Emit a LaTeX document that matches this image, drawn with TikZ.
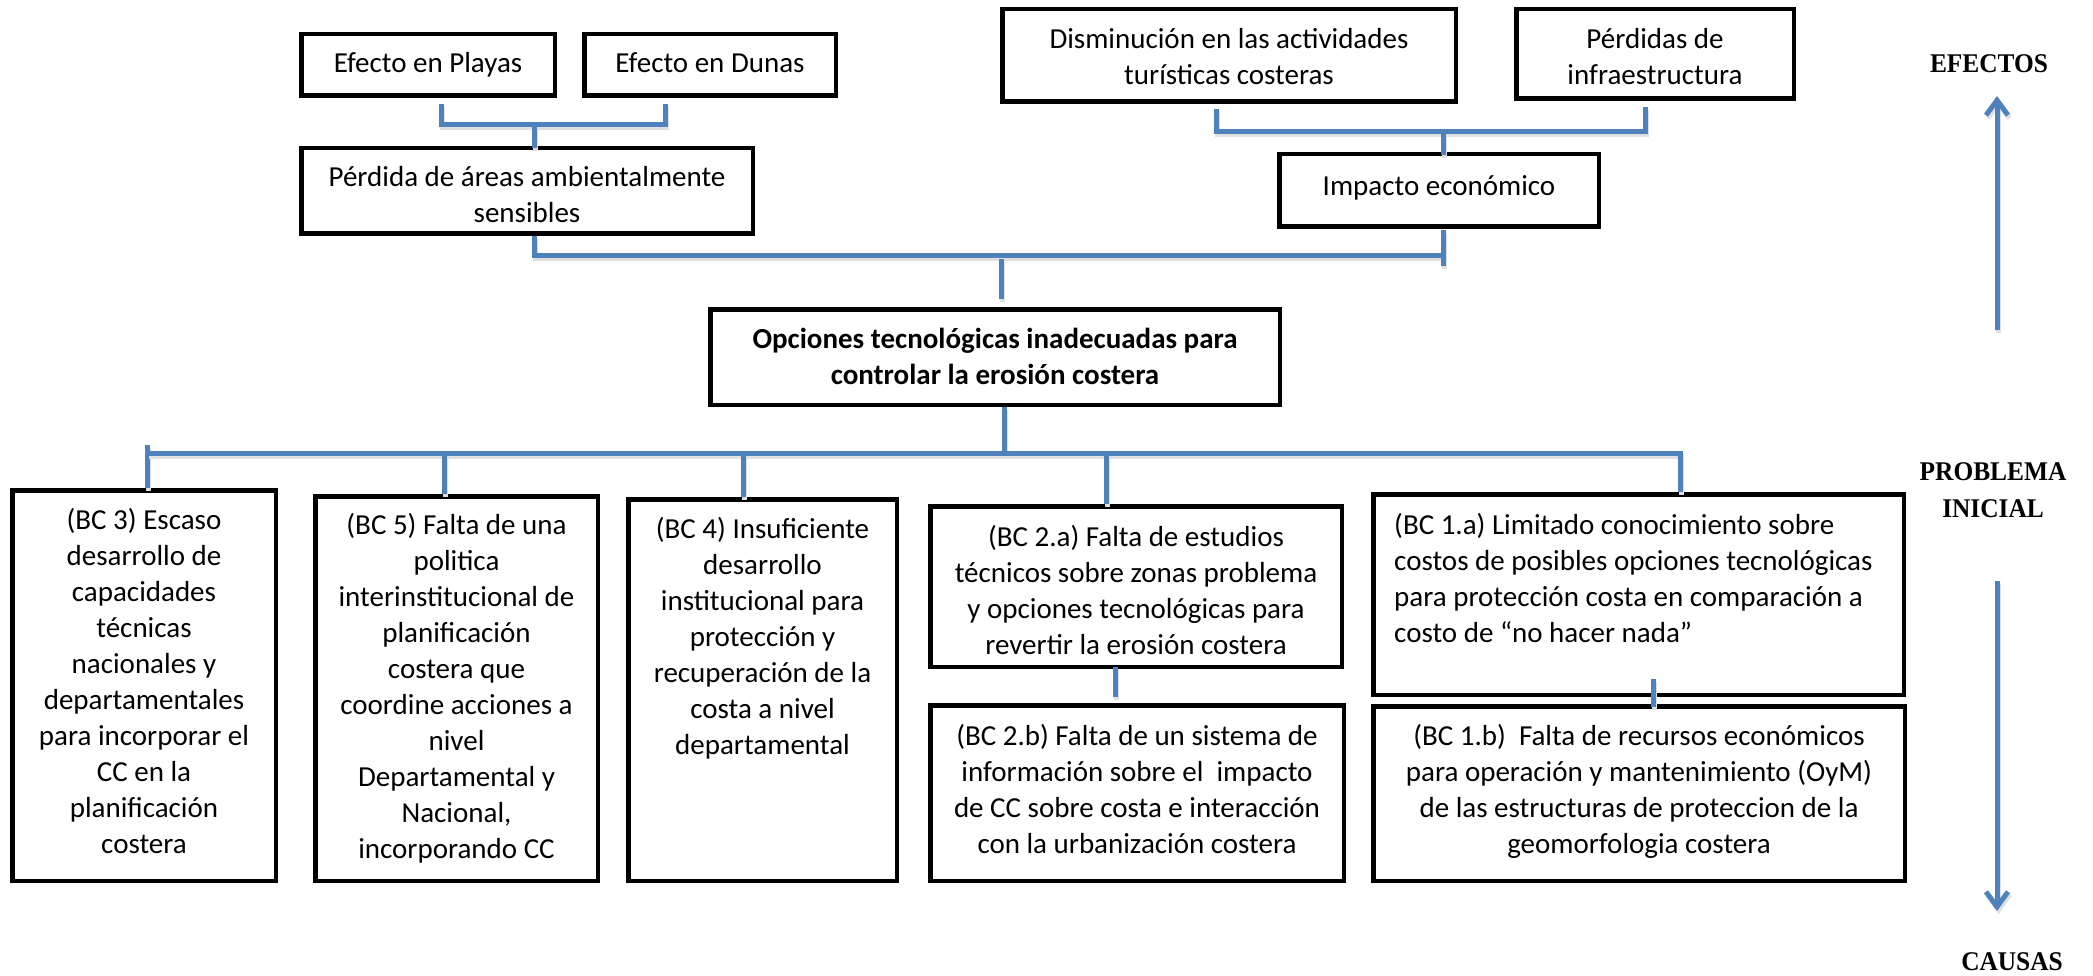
\documentclass[tikz,border=0pt]{standalone}
\usepackage{fontspec}
\setmainfont{Carlito}
\newfontfamily\labfont[FakeStretch=0.94]{Liberation Serif}
\usetikzlibrary{calc,arrows.meta}
\definecolor{conblue}{RGB}{79,129,189}
\begin{document}
\begin{tikzpicture}[x=1pt,y=-1pt,
  box/.style={draw=black, line width=4.5pt, rectangle, inner sep=0pt},
  txt/.style={inner sep=0pt, font=\fontsize{29}{36}\selectfont, align=center, anchor=base},
  btxt/.style={txt, font=\fontsize{29}{36}\selectfont\bfseries},
  lab/.style={inner sep=0pt, font=\labfont\bfseries\fontsize{27}{37}\selectfont, align=center, anchor=base},
  conn/.style={draw=conblue, line width=5pt, preaction={draw=black!12, line width=5pt, transform canvas={shift={(1.5pt,-3pt)}}}},
  bigarrow/.style={conn, -{Straight Barb[length=15pt,width=22pt]}},
]
\fill[white] (0,0) rectangle (2093,976);
\useasboundingbox (0,0) rectangle (2093,976);

% ---------- boxes ----------
\node[box, minimum width=253.5, minimum height=61.5] (playas) at (428,65) {};
\node[box, minimum width=251.5, minimum height=61.5] (dunas) at (710,65) {};
\node[box, minimum width=451.5, minimum height=85.5] (perdida) at (527,191) {};
\node[box, minimum width=453.5, minimum height=92.5] (dismin) at (1229,55.5) {};
\node[box, minimum width=277.5, minimum height=89.5] (infra) at (1655,54) {};
\node[box, minimum width=319.5, minimum height=72.5] (impacto) at (1439,190.5) {};
\node[box, minimum width=569.5, minimum height=95.5] (opciones) at (995,357) {};
\node[box, minimum width=263.5, minimum height=390.5] (bc3) at (144,685.5) {};
\node[box, minimum width=282.5, minimum height=384.5] (bc5) at (456.5,688.5) {};
\node[box, minimum width=268.5, minimum height=381.5] (bc4) at (762.5,690) {};
\node[box, minimum width=411.5, minimum height=160.5] (bc2a) at (1136,586.5) {};
\node[box, minimum width=413.5, minimum height=175.5] (bc2b) at (1137,793) {};
\node[box, minimum width=530.5, minimum height=200.5] (bc1a) at (1638.5,594.5) {};
\node[box, minimum width=531.5, minimum height=174.5] (bc1b) at (1639,793.5) {};

% ---------- texts (anchor = baseline of the last line) ----------
\node[txt] (tplayas) at (428,73) {Efecto en Playas};
\node[txt] (tdunas) at (710,73) {Efecto en Dunas};
\node[txt] (tperdida) at (527,223) {Pérdida de áreas ambientalmente\\sensibles};
\node[txt] (tdismin) at (1229,85) {Disminución en las actividades\\turísticas costeras};
\node[txt] (tinfra) at (1655,85) {Pérdidas de\\infraestructura};
\node[txt] (timpacto) at (1439,196) {Impacto económico};
\node[btxt] (topciones) at (995,384) {Opciones tecnológicas inadecuadas para\\controlar la erosión costera};
\node[txt] (tbc3) at (144,853) {(BC 3) Escaso\\desarrollo de\\capacidades\\técnicas\\nacionales y\\departamentales\\para incorporar el\\CC en la\\planificación\\costera};
\node[txt] (tbc5) at (456.5,858) {(BC 5) Falta de una\\politica\\interinstitucional de\\planificación\\costera que\\coordine acciones a\\nivel\\Departamental y\\Nacional,\\incorporando CC};
\node[txt] (tbc4) at (762.5,754) {(BC 4) Insuficiente\\desarrollo\\institucional para\\protección y\\recuperación de la\\costa a nivel\\departamental};
\node[txt] (tbc2a) at (1136,654) {(BC 2.a) Falta de estudios\\técnicos sobre zonas problema\\y opciones tecnológicas para\\revertir la erosión costera};
\node[txt] (tbc2b) at (1137,853) {(BC 2.b) Falta de un sistema de\\información sobre el\ \ impacto\\de CC sobre costa e interacción\\con la urbanización costera};
\node[txt, align=left, anchor=base west] (tbc1a) at (1394,642) {(BC 1.a) Limitado conocimiento sobre\\costos de posibles opciones tecnológicas\\para protección costa en comparación a\\costo de “no hacer nada”};
\node[txt] (tbc1b) at (1639,853) {(BC 1.b)\ \ Falta de recursos económicos\\para operación y mantenimiento (OyM)\\de las estructuras de proteccion de la\\geomorfologia costera};

% ---------- side labels ----------
\node[lab] (efectos) at (1989,73) {EFECTOS};
\node[lab] (problema) at (1993,517) {PROBLEMA\\INICIAL};
\node[lab] (causas) at (2012,970) {CAUSAS};
\coordinate (upA) at (1997,330);
\coordinate (upB) at (1997,96);
\coordinate (dnA) at (1997,581);
\coordinate (dnB) at (1997,911);
\draw[bigarrow] (upA) -- (upB);
\draw[bigarrow] (dnA) -- (dnB);

% ---------- connectors ----------
\draw[conn] ($(playas.south)+(13,6)$) |- ($(dunas.south)+(-45,27)$) -- ($(dunas.south)+(-45,6)$);
\draw[conn] ($(perdida.north)+(7,-21)$) -- ($(perdida.north)+(7,2)$);
\draw[conn] ($(perdida.south)+(7,0)$) |- ($(impacto.south)+(4,27)$);
\draw[conn] ($(impacto.south)+(4,1)$) -- ($(impacto.south)+(4,37)$);
\draw[conn] ($(opciones.north)+(6,-48)$) -- ($(opciones.north)+(6,-8)$);
\draw[conn] ($(dismin.south)+(-13,5)$) |- ($(infra.south)+(-10,31)$) -- ($(infra.south)+(-10,6)$);
\draw[conn] ($(impacto.north)+(4,-20)$) -- ($(impacto.north)+(4,3)$);
\draw[conn] ($(opciones.south)+(9,0)$) -- ($(opciones.south)+(9,46)$);
\draw[conn] ($(bc3.north)+(3,-43)$) -- ($(bc3.north)+(3,0)$);
\draw[conn] ($(bc3.north)+(3,-35)$) -| ($(bc1a.north)+(41.5,0)$);
\draw[conn] ($(bc5.north)+(-12.5,-41)$) -- ($(bc5.north)+(-12.5,0)$);
\draw[conn] ($(bc4.north)+(-19.5,-44)$) -- ($(bc4.north)+(-19.5,0)$);
\draw[conn] ($(bc2a.north)+(-30,-51)$) -- ($(bc2a.north)+(-30,0)$);
\draw[conn] ($(bc2a.south)+(-21,-2)$) -- ($(bc2a.south)+(-21,28)$);
\draw[conn] ($(bc1a.south)+(14.5,-18)$) -- ($(bc1a.south)+(14.5,10)$);
\end{tikzpicture}
\end{document}
